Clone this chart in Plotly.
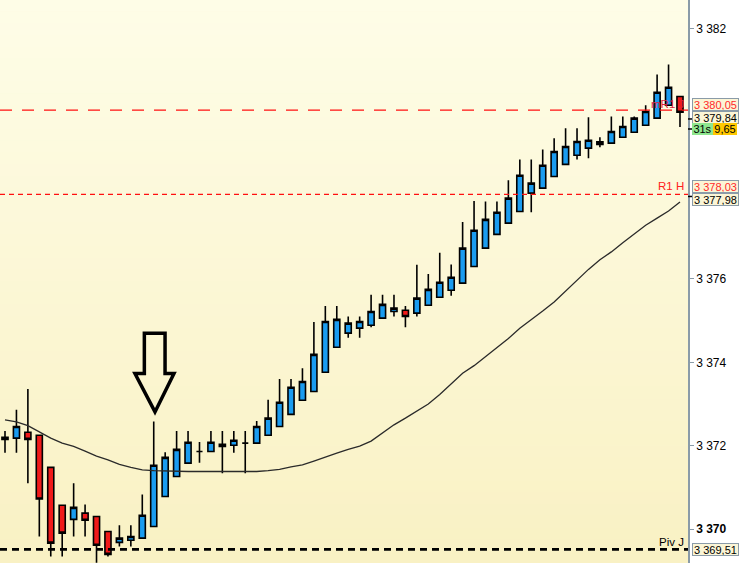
import plotly.graph_objects as go

# ---------------- data ----------------
candle_index = list(range(60))
opens = [3372.20, 3372.18, 3372.32, 3372.25, 3371.48, 3370.57, 3370.23, 3370.38, 3370.30, 3369.94,
         3369.68, 3369.73, 3369.78, 3370.06, 3370.78, 3371.26, 3371.58, 3371.86, 3371.86, 3371.98,
         3372.01, 3372.06, 3372.06, 3372.25, 3372.46, 3372.75, 3373.09, 3373.30, 3373.76, 3374.36,
         3374.70, 3374.82, 3374.89, 3375.06, 3375.22, 3375.25, 3375.18, 3375.37, 3375.56, 3375.73,
         3375.90, 3376.30, 3376.74, 3377.07, 3377.34, 3377.62, 3378.06, 3378.18, 3378.46, 3378.75,
         3378.97, 3379.14, 3379.23, 3379.26, 3379.40, 3379.52, 3379.69, 3379.86, 3380.17, 3380.38]
highs = [3372.35, 3372.86, 3373.36, 3372.25, 3371.48, 3370.57, 3371.10, 3370.59, 3370.30, 3369.94,
         3370.09, 3370.09, 3370.83, 3372.58, 3371.84, 3372.35, 3372.35, 3372.09, 3372.35, 3372.35,
         3372.35, 3372.35, 3372.59, 3373.10, 3373.60, 3373.60, 3373.86, 3374.97, 3375.35, 3375.35,
         3375.10, 3375.10, 3375.62, 3375.62, 3375.62, 3375.35, 3376.34, 3376.12, 3376.63, 3376.35,
         3377.37, 3377.87, 3377.86, 3377.86, 3378.37, 3378.87, 3378.87, 3379.11, 3379.38, 3379.62,
         3379.62, 3379.88, 3379.40, 3379.90, 3379.90, 3379.90, 3380.17, 3380.91, 3381.15, 3380.38]
lows = [3371.83, 3371.83, 3371.10, 3369.82, 3369.34, 3369.34, 3369.82, 3369.82, 3369.19, 3369.34,
        3369.58, 3369.58, 3369.78, 3370.06, 3370.78, 3371.26, 3371.58, 3371.59, 3371.86, 3371.34,
        3371.83, 3371.34, 3372.06, 3372.25, 3372.46, 3372.75, 3373.09, 3373.30, 3373.76, 3374.36,
        3374.59, 3374.59, 3374.84, 3375.06, 3375.10, 3374.84, 3375.10, 3375.37, 3375.56, 3375.60,
        3375.90, 3376.30, 3376.74, 3377.07, 3377.34, 3377.62, 3377.60, 3378.18, 3378.46, 3378.75,
        3378.87, 3378.90, 3379.16, 3379.26, 3379.40, 3379.52, 3379.69, 3379.86, 3380.17, 3379.65]
closes = [3372.15, 3372.46, 3372.15, 3370.72, 3369.66, 3369.90, 3370.52, 3370.21, 3369.61, 3369.39,
          3369.78, 3369.82, 3370.33, 3371.53, 3371.72, 3371.91, 3372.08, 3371.86, 3372.08, 3372.03,
          3372.13, 3372.06, 3372.46, 3372.66, 3373.04, 3373.40, 3373.54, 3374.19, 3374.98, 3375.03,
          3374.94, 3374.98, 3375.22, 3375.39, 3375.30, 3375.10, 3375.54, 3375.75, 3375.92, 3376.04,
          3376.74, 3377.17, 3377.43, 3377.60, 3377.94, 3378.49, 3378.30, 3378.73, 3379.06, 3379.18,
          3379.30, 3379.33, 3379.29, 3379.54, 3379.66, 3379.86, 3380.02, 3380.48, 3380.60, 3380.00]
moving_avg = [3372.62, 3372.57, 3372.48, 3372.33, 3372.18, 3372.06, 3371.98, 3371.87, 3371.75, 3371.66,
              3371.55, 3371.48, 3371.42, 3371.40, 3371.39, 3371.39, 3371.38, 3371.38, 3371.38, 3371.38,
              3371.37, 3371.37, 3371.38, 3371.40, 3371.43, 3371.49, 3371.54, 3371.63, 3371.73, 3371.82,
              3371.91, 3371.99, 3372.11, 3372.30, 3372.50, 3372.66, 3372.82, 3373.00, 3373.23, 3373.48,
              3373.74, 3373.92, 3374.14, 3374.36, 3374.57, 3374.82, 3375.02, 3375.23, 3375.45, 3375.71,
              3375.98, 3376.23, 3376.46, 3376.65, 3376.87, 3377.08, 3377.29, 3377.46, 3377.63, 3377.85]

level_mr1 = 3380.05
level_r1 = 3378.03
level_piv = 3369.51
last_price = 3379.84
ma_last = 3377.98
timer_text = "31s"
timer_value = "9,65"

tick_vals = [3370, 3372, 3374, 3376, 3382]
tick_text = ["<b>3 370</b>", "3 372", "3 374", "3 376", "3 382"]

# ---------------- figure ----------------
W, H = 739, 563
PLOT_W = 688
Y_RANGE = [3369.184, 3382.695]
X_RANGE = [-0.437, 59.70]
FONT = "Liberation Sans, Arial, sans-serif"

fig = go.Figure()

fig.add_trace(go.Candlestick(
    x=candle_index, open=opens, high=highs, low=lows, close=closes,
    increasing=dict(fillcolor="#1A9CF0", line=dict(color="#000000", width=1.6)),
    decreasing=dict(fillcolor="#F01A1A", line=dict(color="#000000", width=1.6)),
    whiskerwidth=0, showlegend=False, hoverinfo="skip",
))

fig.add_trace(go.Scatter(
    x=candle_index, y=moving_avg, mode="lines",
    line=dict(color="#2a2a2a", width=1.3), showlegend=False, hoverinfo="skip",
))

shapes = []
# vertical gradient background of the plot area
n_bands = 48
top_rgb = (254, 253, 231)
bot_rgb = (249, 241, 196)
for k in range(n_bands):
    t = k / (n_bands - 1)
    c = tuple(round(top_rgb[j] + (bot_rgb[j] - top_rgb[j]) * t) for j in range(3))
    shapes.append(dict(type="rect", xref="paper", yref="paper",
                       x0=0, x1=1, y0=1 - (k + 1) / n_bands, y1=1 - k / n_bands + 0.001,
                       fillcolor="rgb(%d,%d,%d)" % c, line=dict(width=0), layer="below"))

# horizontal levels
shapes.append(dict(type="line", xref="paper", yref="y", x0=0, x1=1, y0=level_mr1, y1=level_mr1,
                   line=dict(color="#FF1010", width=1.3, dash="12px,10px")))
shapes.append(dict(type="line", xref="paper", yref="y", x0=0, x1=1, y0=level_r1, y1=level_r1,
                   line=dict(color="#FF1010", width=1.3, dash="5px,4px")))
shapes.append(dict(type="line", xref="paper", yref="y", x0=0, x1=1, y0=level_piv, y1=level_piv,
                   line=dict(color="#000000", width=2.6, dash="7px,5px")))

# small ticks on the price axis for marker boxes
for yv in [last_price, ma_last]:
    shapes.append(dict(type="line", xref="paper", yref="y", x0=1.0, x1=1.0065, y0=yv, y1=yv,
                       line=dict(color="#000000", width=1.5)))
shapes.append(dict(type="line", xref="paper", yref="paper", x0=1.0, x1=1.0065,
                   y0=1 - 129 / H, y1=1 - 129 / H, line=dict(color="#000000", width=1.5)))

# hollow down arrow pointing at the spike candle
arrow_path = ("M 12.18,3374.70 L 13.99,3374.70 L 13.99,3373.73 L 14.77,3373.73 "
              "L 13.11,3372.81 L 11.36,3373.73 L 12.18,3373.73 Z")
shapes.append(dict(type="path", xref="x", yref="y", path=arrow_path,
                   line=dict(color="#000000", width=3.5), fillcolor="rgba(0,0,0,0)"))

annotations = []
box_x = 692 / PLOT_W

def price_box(yv, text, color, yshift=0, yref="y"):
    annotations.append(dict(
        xref="paper", yref=yref, x=box_x, y=yv, xanchor="left", yanchor="middle",
        text=text, showarrow=False, yshift=yshift,
        font=dict(family=FONT, size=11, color=color),
        bgcolor="#FBF5D6", bordercolor="#8A9BA8", borderwidth=1, borderpad=0,
        width=45, height=11, align="center"))

price_box(level_mr1, "3 380,05", "#FF2A2A", yshift=5.5)
price_box(last_price, "3 379,84", "#000000", yshift=1.8)
price_box(level_r1, "3 378,03", "#FF2A2A", yshift=8)
price_box(ma_last, "3 377,98", "#000000", yshift=-3)
price_box(level_piv, "3 369,51", "#000000", yshift=0)

# timer boxes
annotations.append(dict(xref="paper", yref="paper", x=box_x, y=1 - 129 / H,
                        xanchor="left", yanchor="middle", text=timer_text, showarrow=False,
                        font=dict(family=FONT, size=11, color="#000000"),
                        bgcolor="#8EE68E", borderwidth=0, borderpad=0, width=21, height=12))
annotations.append(dict(xref="paper", yref="paper", x=713 / PLOT_W, y=1 - 129 / H,
                        xanchor="left", yanchor="middle", text=timer_value, showarrow=False,
                        font=dict(family=FONT, size=11, color="#000000"),
                        bgcolor="#FFC800", borderwidth=0, borderpad=0, width=24, height=12))

# level names
def level_name(yv, text, color, yshift):
    annotations.append(dict(xref="paper", yref="y", x=686 / PLOT_W, y=yv,
                            xanchor="right", yanchor="middle", text=text, showarrow=False,
                            yshift=yshift, font=dict(family=FONT, size=11.5, color=color)))

level_name(level_mr1, "mR1 J", "#E0203C", 6)
level_name(level_r1, "R1 H", "#FF2020", 8)
level_name(level_piv, "Piv J", "#000000", 7)

fig.update_layout(
    width=W, height=H,
    margin=dict(l=0, r=W - PLOT_W, t=0, b=0),
    paper_bgcolor="#FFFFFF", plot_bgcolor="#FCF8D8",
    shapes=shapes, annotations=annotations,
    showlegend=False, boxgap=0.24,
    xaxis=dict(range=X_RANGE, visible=False, rangeslider=dict(visible=False), fixedrange=True),
    yaxis=dict(range=Y_RANGE, side="right", showgrid=False, zeroline=False,
               showline=True, linecolor="#8A9BA8", linewidth=1.5, mirror=False,
               ticks="outside", ticklen=4, tickcolor="#8A9BA8", tickwidth=1,
               tickvals=tick_vals, ticktext=tick_text,
               tickfont=dict(family=FONT, size=12, color="#000000"), fixedrange=True),
)

fig.write_html("out.html", config={"displayModeBar": False},
               post_script="document.body.style.margin='0';document.body.style.overflow='hidden';")
